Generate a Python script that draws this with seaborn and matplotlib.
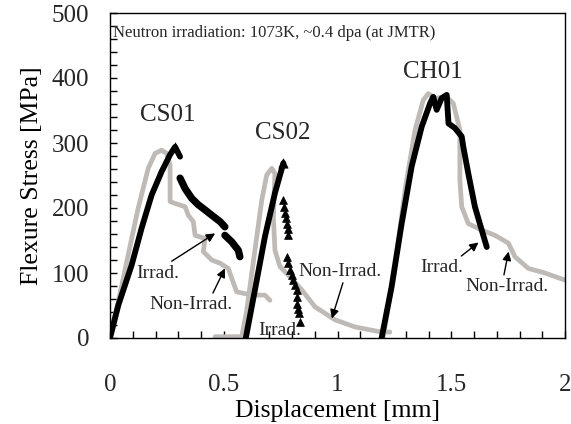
import matplotlib
matplotlib.use("Agg")
import matplotlib.pyplot as plt
from matplotlib.ticker import MultipleLocator
import seaborn as sns
import pandas as pd
import numpy as np

# ---------------- data ----------------
# CS01 non-irradiated (grey)
cs01_non_x = [0.0, 0.037, 0.080, 0.124, 0.168, 0.198, 0.227, 0.249, 0.264, 0.264, 0.286, 0.330,
              0.344, 0.366, 0.374, 0.418, 0.410, 0.447, 0.484, 0.520, 0.535, 0.557, 0.623, 0.681, 0.703]
cs01_non_y = [5, 56, 128, 200, 261, 284, 289, 284, 266, 210, 207, 202,
              189, 179, 158, 153, 133, 120, 115, 107, 92, 71, 66, 66, 58]
# CS01 irradiated (black) - loading part and post-peak parts
cs01_irr_x1 = [0.0, 0.037, 0.095, 0.139, 0.183, 0.227, 0.264, 0.286, 0.308]
cs01_irr_y1 = [0, 51, 112, 169, 220, 256, 282, 294, 279]
cs01_irr_x2 = [0.308, 0.330, 0.359, 0.388, 0.418, 0.447, 0.484, 0.505]
cs01_irr_y2 = [246, 230, 215, 205, 197, 189, 179, 171]
cs01_irr_x3 = [0.505, 0.535, 0.564, 0.571]
cs01_irr_y3 = [158, 148, 135, 125]

# CS02 non-irradiated (grey)
cs02_non_x = [0.462, 0.579, 0.600, 0.637, 0.667, 0.689, 0.711, 0.725, 0.718, 0.725, 0.747,
              0.791, 0.843, 0.901, 0.989, 1.077, 1.179, 1.23]
cs02_non_y = [2, 2, 40, 135, 212, 251, 261, 253, 187, 135, 110,
              94, 74, 48, 28, 17, 10, 9]
# CS02 irradiated (black) - loading line and scattered post-peak points
cs02_irr_x = [0.597, 0.637, 0.681, 0.725, 0.762]
cs02_irr_y = [0, 74, 156, 223, 269]
cs02_pts_x = [0.762, 0.766, 0.769, 0.773, 0.777, 0.781, 0.784, 0.777, 0.784, 0.791, 0.799,
              0.806, 0.814, 0.821, 0.821, 0.824, 0.828, 0.831, 0.835]
cs02_pts_y = [212, 202, 192, 184, 176, 167, 158, 125, 115, 105, 97,
              89, 81, 74, 63, 53, 45, 38, 25]

# CH01 non-irradiated (grey)
ch01_non_x = [1.20, 1.253, 1.297, 1.341, 1.377, 1.399, 1.429, 1.480, 1.509, 1.538, 1.538,
              1.546, 1.575, 1.634, 1.692, 1.751, 1.780, 1.839, 1.912, 2.0]
ch01_non_y = [0, 110, 228, 320, 366, 376, 369, 371, 361, 320, 243,
              202, 176, 166, 158, 146, 125, 107, 100, 89]
# CH01 irradiated (black)
ch01_irr_x = [1.194, 1.238, 1.282, 1.326, 1.370, 1.407, 1.421, 1.436, 1.458, 1.480, 1.488,
              1.516, 1.546, 1.553, 1.575, 1.604, 1.634, 1.656]
ch01_irr_y = [0, 79, 176, 264, 325, 361, 371, 351, 369, 374, 330,
              323, 310, 294, 253, 202, 166, 140]

# tick labels
x_ticks = [0, 0.5, 1, 1.5, 2]
x_tick_labels = ['0', '0.5', '1', '1.5', '2']
y_ticks = [0, 100, 200, 300, 400, 500]
y_tick_labels = ['0', '100', '200', '300', '400', '500']

# ---------------- styling ----------------
sns.set_theme(style="white")
plt.rcParams['font.family'] = ['Liberation Serif', 'DejaVu Serif']

GREY = '#bdbab8'
BLACK = '#000000'

fig = plt.figure(figsize=(5.71, 4.24), dpi=100)
ax = fig.add_axes([110 / 571, 1 - 338 / 424, 455 / 571, 325 / 424])


def line(x, y, color, lw, z):
    df = pd.DataFrame({'x': x, 'y': y})
    sns.lineplot(data=df, x='x', y='y', ax=ax, color=color, lw=lw, sort=False,
                 estimator=None, zorder=z, solid_capstyle='round', solid_joinstyle='round')


# grey curves (non-irradiated)
line(cs01_non_x, cs01_non_y, GREY, 3.4, 2)
line(cs02_non_x, cs02_non_y, GREY, 3.4, 2)
line(ch01_non_x, ch01_non_y, GREY, 3.4, 2)
# black curves (irradiated)
line(cs01_irr_x1, cs01_irr_y1, BLACK, 4.2, 3)
line(cs01_irr_x2, cs01_irr_y2, BLACK, 5.2, 3)
line(cs01_irr_x3, cs01_irr_y3, BLACK, 5.2, 3)
line(cs02_irr_x, cs02_irr_y, BLACK, 4.2, 3)
line(ch01_irr_x, ch01_irr_y, BLACK, 4.2, 3)
sns.scatterplot(x=cs02_pts_x, y=cs02_pts_y, ax=ax, color=BLACK, marker='^', s=32,
                edgecolor=BLACK, linewidth=0.5, zorder=3)
sns.scatterplot(x=[cs01_irr_x1[-2], cs02_irr_x[-1]], y=[cs01_irr_y1[-2], cs02_irr_y[-1]],
                ax=ax, color=BLACK, marker='^', s=45, edgecolor=BLACK, linewidth=0.5, zorder=4)

ax.set_xlim(0, 2)
ax.set_ylim(0, 500)
ax.xaxis.set_minor_locator(MultipleLocator(0.1))
ax.yaxis.set_minor_locator(MultipleLocator(20))
ax.set_xticks(x_ticks)
ax.set_xticklabels(x_tick_labels)
ax.set_yticks(y_ticks)
ax.set_yticklabels(y_tick_labels)

ax.tick_params(axis='both', which='both', direction='in', length=5, width=1, color='black',
               bottom=True, left=True, top=False, right=False)
ax.tick_params(axis='x', which='major', pad=26, labelsize=18)
ax.tick_params(axis='y', which='major', pad=15, labelsize=18)

for s in ax.spines.values():
    s.set_color('black')
    s.set_linewidth(1.0)

ax.set_xlabel('Displacement [mm]', fontsize=18.5, labelpad=3, color='black')
ax.set_ylabel('Flexure Stress [MPa]', fontsize=18.5, labelpad=6, color='black')

# texts
ax.text(0.013, 469, 'Neutron irradiation: 1073K, ~0.4 dpa (at JMTR)', fontsize=12,
        ha='left', va='center')
ax.text(0.253, 343, 'CS01', fontsize=18, ha='center', va='center')
ax.text(0.758, 315, 'CS02', fontsize=18, ha='center', va='center')
ax.text(1.42, 410, 'CH01', fontsize=18, ha='center', va='center')

arrow = dict(arrowstyle='-|>', color='black', lw=1.0, mutation_scale=13, shrinkA=0, shrinkB=0)
fs = 14
ax.annotate('Irrad.', xy=(0.462, 161), xytext=(0.211, 100), fontsize=fs, ha='center',
            va='center', arrowprops=dict(arrow, relpos=(0.7, 1.0)))
ax.annotate('Non-Irrad.', xy=(0.505, 107), xytext=(0.354, 51), fontsize=fs, ha='center',
            va='center', arrowprops=dict(arrow, relpos=(0.75, 1.0)))
ax.text(0.747, 12, 'Irrad.', fontsize=fs, ha='center', va='center')
ax.annotate('Non-Irrad.', xy=(0.975, 30), xytext=(1.01, 103), fontsize=fs, ha='center',
            va='center', arrowprops=dict(arrow, relpos=(0.55, 0.0)))
ax.annotate('Irrad.', xy=(1.62, 147), xytext=(1.46, 108), fontsize=fs, ha='center',
            va='center', arrowprops=dict(arrow, relpos=(0.85, 1.0)))
ax.annotate('Non-Irrad.', xy=(1.752, 133), xytext=(1.747, 79), fontsize=fs, ha='center',
            va='center', arrowprops=dict(arrow, relpos=(0.45, 1.0)))

fig.savefig('out.png', dpi=100, facecolor='white')
